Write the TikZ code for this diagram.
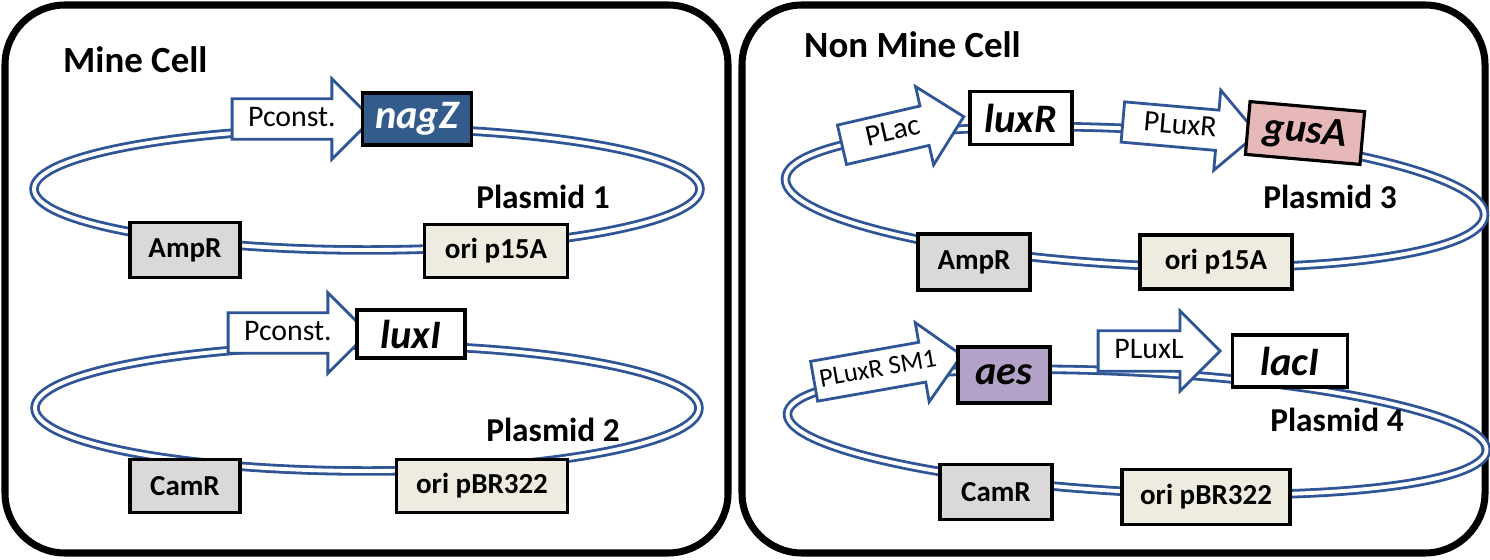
\documentclass[tikz,border=0pt]{standalone}
\usepackage{fontspec}
\setmainfont{Carlito}
\usetikzlibrary{shapes.arrows}
\definecolor{dnablue}{HTML}{2F5597}
\definecolor{ampgray}{HTML}{D9D9D9}
\definecolor{oricream}{HTML}{EEECE1}
\definecolor{nagblue}{HTML}{335B8C}
\definecolor{guspink}{HTML}{E6B9B8}
\definecolor{aespurple}{HTML}{B3A2C7}
\tikzset{
  cell/.style={draw=black,line width=4pt,rounded corners=1.2cm},
  dna/.style={draw=dnablue,line width=1.6pt,double=white,double distance=2.2pt},
  part/.style={draw=black,line width=1.8pt,inner sep=0pt,font=\fontsize{16.5}{18}\selectfont\bfseries},
  gene/.style={part,fill=white,font=\fontsize{23}{25}\selectfont\bfseries\itshape},
  prom/.style={single arrow,draw=dnablue,fill=white,line width=1.6pt,
    single arrow head extend=0.4cm,inner xsep=2pt,inner ysep=3.2pt,
    text height=11.5pt,text depth=3.5pt,font=\fontsize{17}{19}\selectfont},
  title/.style={font=\fontsize{21}{23}\selectfont\bfseries},
  plabel/.style={font=\fontsize{19}{21}\selectfont\bfseries}
}
\begin{document}
\begin{tikzpicture}[x=0.02cm,y=-0.02cm]
  \useasboundingbox (0,0) rectangle (1490,560);
  % cells
  \draw [cell] (5,5) rectangle (728,553);
  \draw [cell] (742,5) rectangle (1485,553);
  \node [title,anchor=west] (minecell) at (57,60) {Mine Cell};
  \node [title,anchor=west] (nonmine) at (798,45) {Non Mine Cell};
  % plasmid rings
  \draw [dna] (367,189) ellipse [x radius=333,y radius=61];
  \draw [dna] (367,408) ellipse [x radius=332,y radius=63];
  \draw [dna,rotate around={-3:(1135,197)}] (1135,197) ellipse [x radius=350,y radius=68];
  \draw [dna,rotate around={-3:(1137,432)}] (1137,432) ellipse [x radius=350,y radius=60];
  % plasmid 1
  \node [prom,minimum height=2.8cm] (pconsta) at (292,119) {Pconst.\hspace{0.6cm}};
  \node [gene,fill=nagblue,text=white,minimum width=2.18cm,minimum height=1.04cm] (nagz) at (417,119) {nagZ};
  \node [part,fill=ampgray,minimum width=2.2cm,minimum height=1.1cm] (ampra) at (185,250) {AmpR};
  \node [part,fill=oricream,minimum width=2.86cm,minimum height=1.06cm] (oria) at (496,251) {ori p15A};
  \node [plabel] (plasa) at (543,197) {Plasmid 1};
  % plasmid 2
  \node [prom,minimum height=2.8cm] (pconstb) at (288,333) {Pconst.\hspace{0.6cm}};
  \node [gene,minimum width=2.16cm,minimum height=0.96cm] (luxi) at (411,334) {luxI};
  \node [part,fill=ampgray,minimum width=2.2cm,minimum height=1.06cm] (camra) at (185,486) {CamR};
  \node [part,fill=oricream,minimum width=3.42cm,minimum height=1.06cm] (orib) at (482,486) {ori pBR322};
  \node [plabel] (plasb) at (553,430) {Plasmid 2};
  % plasmid 3
  \node [prom,minimum height=2.5cm,rotate=13] (plac) at (893,133) {PLac\hspace{0.7cm}};
  \node [gene,minimum width=2.04cm,minimum height=1.06cm] (luxr) at (1021,118) {luxR};
  \node [prom,minimum height=2.7cm,rotate=-5] (pluxr) at (1180,127) {PLuxR\hspace{0.7cm}};
  \node [gene,fill=guspink,minimum width=2.3cm,minimum height=1.06cm,rotate=-5] (gusa) at (1305,133) {gusA};
  \node [part,fill=ampgray,minimum width=2.24cm,minimum height=1.12cm] (amprb) at (974,262) {AmpR};
  \node [part,fill=oricream,minimum width=3.04cm,minimum height=1.08cm] (oric) at (1216,262) {ori p15A};
  \node [plabel] (plasc) at (1330,197) {Plasmid 3};
  % plasmid 4
  \node [prom,minimum height=3.0cm,rotate=10,font=\fontsize{15}{17}\selectfont] (pluxsm) at (878,370) {PLuxR SM1\hspace{0.5cm}};
  \node [gene,fill=aespurple,minimum width=1.84cm,minimum height=1.12cm] (aes) at (1004,375) {aes};
  \node [prom,minimum height=2.44cm] (pluxl) at (1149,351) {PLuxL\hspace{0.6cm}};
  \node [gene,minimum width=2.3cm,minimum height=1.04cm] (laci) at (1290,361) {lacI};
  \node [part,fill=ampgray,minimum width=2.24cm,minimum height=1.1cm] (camrb) at (996,492) {CamR};
  \node [part,fill=oricream,minimum width=3.36cm,minimum height=1.1cm] (orid) at (1206,497) {ori pBR322};
  \node [plabel] (plasd) at (1337,420) {Plasmid 4};
\end{tikzpicture}
\end{document}
